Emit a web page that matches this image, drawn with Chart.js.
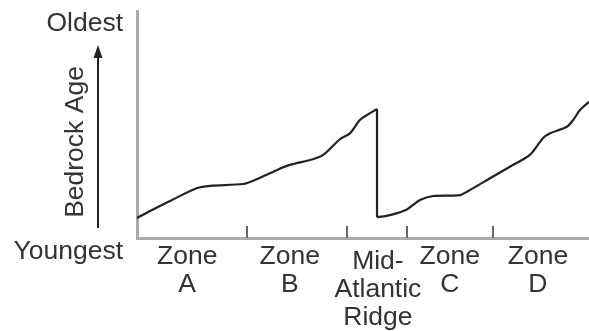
<!DOCTYPE html>
<html>
<head>
<meta charset="utf-8">
<script src="https://cdn.jsdelivr.net/npm/chart.js@4"></script>
<style>
  html, body { margin: 0; padding: 0; background: #fff; }
</style>
</head>
<body>
<canvas id="grafico" width="589" height="331"></canvas>
<script>
// distance across the sea floor (0 = left edge, 100 = right edge)
// bedrock age (0 = youngest, 100 = oldest)
const westDist = [0, 2.9, 7.3, 13.3, 16.2, 23.5, 25.7, 31.0, 33.8, 38.9, 41.2, 44.9, 47.1, 49.3, 50.9, 53.1];
const westAge  = [8.8, 11.9, 16.3, 22.0, 23.0, 23.8, 25.2, 30.0, 32.2, 34.7, 36.6, 43.5, 46.1, 52.0, 54.2, 56.8];

const ridgeDist = [53.1, 53.1];
const ridgeAge  = [56.8, 9.1];

const eastDist = [53.1, 56.0, 59.7, 62.6, 65.5, 71.5, 73.0, 78.1, 82.5, 86.9, 89.8, 91.4, 95.1, 96.5, 98.0, 100];
const eastAge  = [9.1, 10.1, 12.6, 16.7, 18.5, 18.9, 20.4, 26.3, 31.4, 36.6, 43.9, 46.1, 49.0, 52.0, 56.4, 60.0];

const zoneNames = [["Zone", "A"], ["Zone", "B"], ["Zone", "C"], ["Zone", "D"]];
const zoneCenters = [11.1, 33.8, 69.2, 88.7];
const ridgeName = ["Mid-", "Atlantic", "Ridge"];
const ridgeCenter = 53.3;
const zoneBounds = [24.3, 46.5, 59.7, 78.8];

const corTexto = "#333";
const corEixo = "#aaa";
const fonte = "'Liberation Sans', Arial, sans-serif";
const fonteTick = { family: fonte, size: 26.5, lineHeight: 1.05 };

function pontos(xs, ys) {
  return xs.map((x, i) => ({ x: x, y: ys[i] }));
}

// texts and arrow of the age axis, small marks between the zones
const extras = {
  id: "extras",
  afterDatasetsDraw(chart) {
    const ctx = chart.ctx;
    const area = chart.chartArea;
    const xs = chart.scales.x;
    ctx.save();

    ctx.strokeStyle = "#666";
    ctx.lineWidth = 2;
    zoneBounds.forEach(b => {
      const px = Math.round(xs.getPixelForValue(b));
      ctx.beginPath();
      ctx.moveTo(px, area.bottom - 12);
      ctx.lineTo(px, area.bottom);
      ctx.stroke();
    });

    ctx.fillStyle = corTexto;
    ctx.font = "26.5px " + fonte;
    ctx.textAlign = "right";
    ctx.textBaseline = "alphabetic";
    ctx.fillText("Oldest", area.left - 14, area.top + 20);
    ctx.fillText("Youngest", area.left - 14, area.bottom + 21);

    ctx.save();
    ctx.translate(area.left - 54, 142);
    ctx.rotate(-Math.PI / 2);
    ctx.textAlign = "center";
    ctx.fillText("Bedrock Age", 0, 0);
    ctx.restore();

    const ax = area.left - 39;
    ctx.strokeStyle = "#222";
    ctx.fillStyle = "#222";
    ctx.lineWidth = 2;
    ctx.beginPath();
    ctx.moveTo(ax, area.bottom - 10);
    ctx.lineTo(ax, area.top + 44);
    ctx.stroke();
    ctx.beginPath();
    ctx.moveTo(ax, area.top + 34);
    ctx.lineTo(ax - 4.5, area.top + 47);
    ctx.lineTo(ax + 4.5, area.top + 47);
    ctx.closePath();
    ctx.fill();

    ctx.restore();
  }
};

const linha = { borderColor: "#222", borderWidth: 2.2, pointRadius: 0, fill: false };

new Chart(document.getElementById("grafico"), {
  type: "line",
  data: {
    datasets: [
      Object.assign({ data: pontos(westDist, westAge), tension: 0.3 }, linha),
      Object.assign({ data: pontos(ridgeDist, ridgeAge), tension: 0 }, linha),
      Object.assign({ data: pontos(eastDist, eastAge), tension: 0.3 }, linha)
    ]
  },
  options: {
    responsive: false,
    animation: false,
    layout: { padding: { left: 129, top: 11, right: 0, bottom: 0 } },
    plugins: { legend: { display: false }, tooltip: { enabled: false } },
    scales: {
      x: {
        type: "linear",
        min: 0,
        max: 100,
        afterBuildTicks: axis => { axis.ticks = zoneCenters.map(v => ({ value: v })); },
        afterFit: axis => { axis.height = 93; },
        grid: { display: false },
        border: { display: true, color: corEixo, width: 3 },
        ticks: {
          autoSkip: false,
          maxRotation: 0,
          padding: -3,
          color: corTexto,
          font: fonteTick,
          callback: (v, i) => zoneNames[i]
        }
      },
      // second axis only for the ridge label, which sits a little lower
      xRidge: {
        type: "linear",
        axis: "x",
        position: { y: 0 },
        min: 0,
        max: 100,
        afterBuildTicks: axis => { axis.ticks = [{ value: ridgeCenter }]; },
        grid: { display: false },
        border: { display: false },
        ticks: {
          autoSkip: false,
          maxRotation: 0,
          padding: 2,
          color: corTexto,
          font: fonteTick,
          callback: () => ridgeName
        }
      },
      y: {
        min: 0,
        max: 100,
        grid: { display: false },
        border: { display: true, color: corEixo, width: 3 },
        ticks: { display: false }
      }
    }
  },
  plugins: [extras]
});
</script>
</body>
</html>
